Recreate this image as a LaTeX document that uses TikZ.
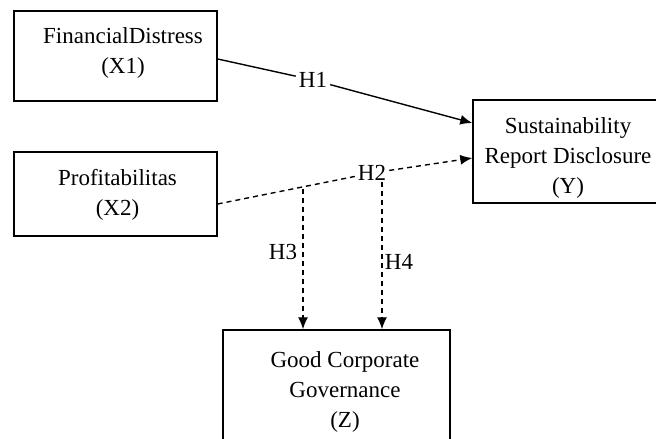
\documentclass[tikz,border=0pt]{standalone}
\usepackage{fontspec}
\setmainfont{LiberationSerif}[Extension=.ttf, UprightFont=*-Regular, BoldFont=*-Bold]
\usetikzlibrary{arrows.meta}
\begin{document}
\begin{tikzpicture}[x=1pt,y=1pt,
  box/.style={draw, line width=1.4pt, inner sep=0pt},
  txt/.style={font=\fontsize{23}{30}\selectfont, align=center, inner sep=0pt},
  lbl/.style={font=\fontsize{23}{28}\selectfont, inner sep=3pt},
  conn/.style={line width=1.4pt},
  tip/.style={-{Latex[length=12pt,width=10pt]}},
  dsh/.style={dash pattern=on 5pt off 4pt}]
\clip (0,0) rectangle (656,439);
% boxes
\node[box, minimum width=203pt, minimum height=90pt] (X1) at (115.5,383) {};
\node[box, minimum width=203pt, minimum height=84pt] (X2) at (115.5,245) {};
\node[box, minimum width=190pt, minimum height=103pt] (Y) at (568,287.5) {};
\node[box, minimum width=227pt, minimum height=124pt] (Z) at (336.5,47) {};
% texts
\node[txt] (X1t) at (123,386.5) {FinancialDistress\\(X1)};
\node[txt] (X2t) at (117.5,244) {Profitabilitas\\(X2)};
\node[txt] (Yt) at (568,281.5) {Sustainability\\Report Disclosure\\(Y)};
\node[txt] (Zt) at (345,47) {Good Corporate\\Governance\\(Z)};
% labels
\node[lbl] (h1) at (313,359) {H1};
\node[lbl] (h2) at (372,266) {H2};
\node[lbl] (h3) at (283,187) {H3};
\node[lbl] (h4) at (399,177) {H4};
% connectors
\draw[conn] ([yshift=-3pt]X1.east) -- (h1);
\draw[conn,tip] (h1) -- ([yshift=28.5pt]Y.west);
\draw[conn,dsh] ([yshift=-10pt]X2.east) -- (h2);
\draw[conn,dsh,tip] (h2) -- ([yshift=-6.5pt]Y.west);
\coordinate (h3s) at (303,250);
\coordinate (h4s) at (382,257);
\draw[conn,dsh,tip] (h3s) -- (h3s |- Z.north);
\draw[conn,dsh,tip] (h4s) -- (h4s |- Z.north);
\end{tikzpicture}
\end{document}
